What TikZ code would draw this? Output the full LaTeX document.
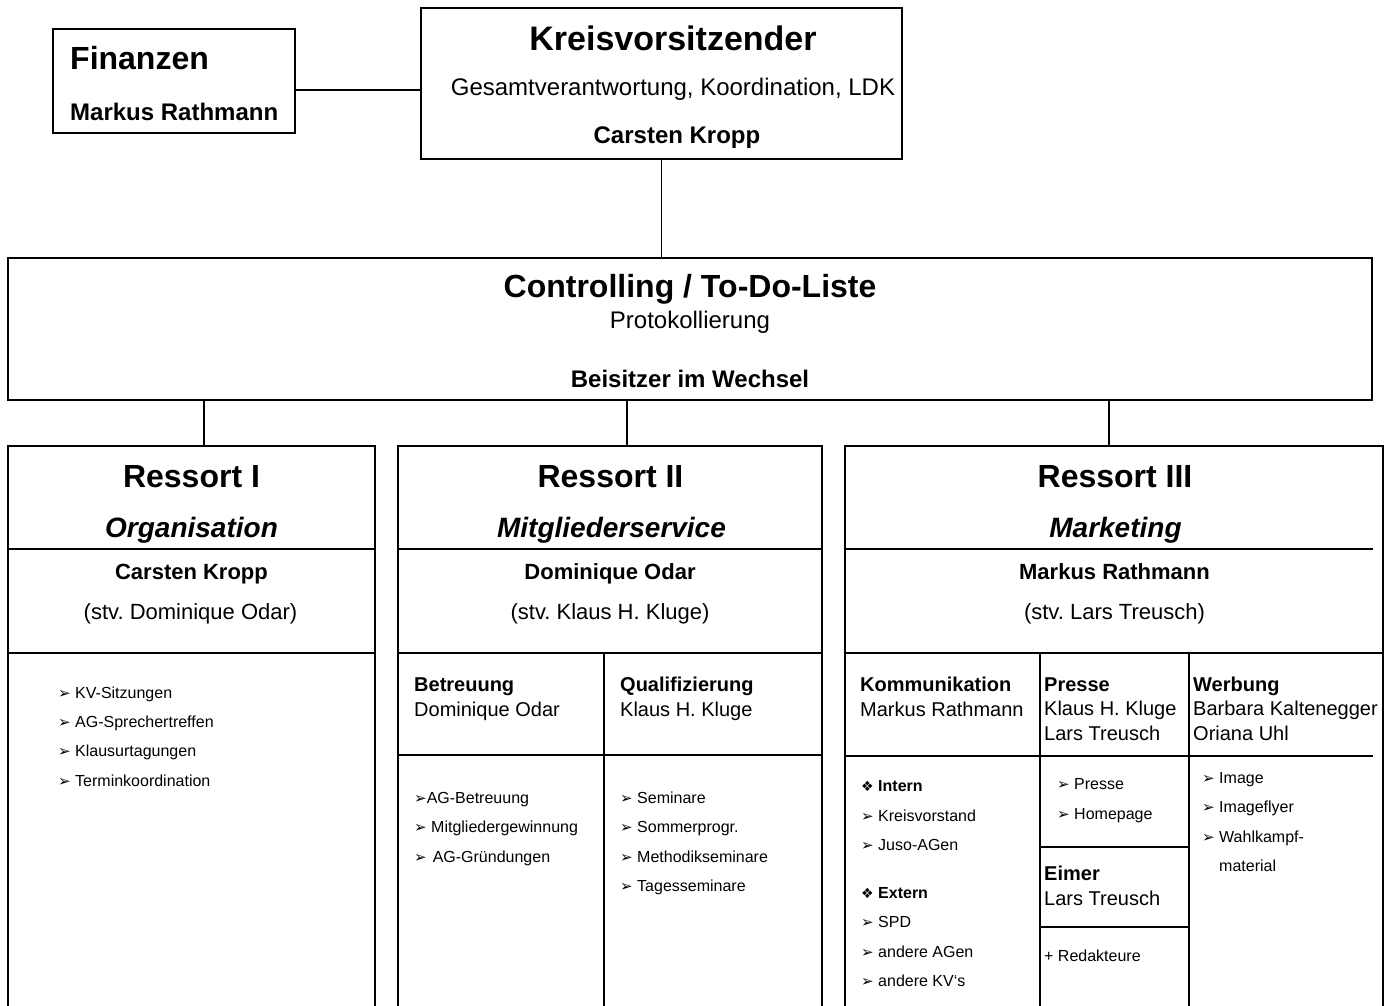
\documentclass[tikz,border=0pt]{standalone}
\usepackage{fontspec}
\setmainfont{Liberation Sans}
\newfontfamily\symfont{DejaVu Sans}
\usetikzlibrary{positioning}
\frenchspacing
\newcommand{\arrowbullet}{{\symfont\fontsize{15}{15}\selectfont ➢}}
\newcommand{\diabullet}{{\symfont\fontsize{14}{14}\selectfont ❖}}
\tikzset{
    box/.style={draw, rectangle, line width=1.4pt, inner sep=0pt},
    rule/.style={line width=1.4pt},
    link/.style={line width=1.2pt},
    txt/.style={inner sep=0pt, anchor=base},
    txtl/.style={inner sep=0pt, anchor=base west, align=left},
    huge_bold/.style={txt, font=\fontsize{34}{40}\selectfont\bfseries},
    big_bold/.style={txt, font=\fontsize{32}{38}\selectfont\bfseries},
    sub_italic/.style={txt, font=\fontsize{28}{34}\selectfont\bfseries\itshape},
    mid_bold/.style={txt, font=\fontsize{24}{28}\selectfont\bfseries},
    mid_plain/.style={txt, font=\fontsize{24}{28}\selectfont},
    name_bold/.style={txt, font=\fontsize{22}{26}\selectfont\bfseries},
    name_plain/.style={txt, font=\fontsize{22}{26}\selectfont},
    head_text/.style={txtl, font=\fontsize{20}{24.5}\selectfont},
    item_list/.style={txtl, font=\fontsize{16}{29.4}\selectfont}
}

\begin{document}
\begin{tikzpicture}[x=1pt, y=-1pt]
  \useasboundingbox (0,0) rectangle (1394,1005);
  \clip (0,0) rectangle (1394,1005);

  % Top: Finanzen and Kreisvorsitzender
  \node[box, minimum width=242, minimum height=104] (finanzen) at (174,81) {};
  \node[box, minimum width=481, minimum height=151] (kreis) at (661.5,83.5) {};
  \node[big_bold, anchor=base west] (fin_title) at (70,69.5) {Finanzen};
  \node[mid_bold, anchor=base west] (fin_name) at (70,120.6) {Markus Rathmann};
  \node[huge_bold] (kreis_title) at (673,50) {Kreisvorsitzender};
  \node[mid_plain] (kreis_task) at (673,95.5) {Gesamtverantwortung, Koordination, LDK};
  \node[mid_bold] (kreis_name) at (677,143.5) {Carsten Kropp};

  % Controlling
  \node[box, minimum width=1364, minimum height=142] (ctrl) at (690,329) {};
  \node[big_bold] (ctrl_title) at (690,297) {Controlling / To-Do-Liste};
  \node[mid_plain] (ctrl_task) at (690,328.5) {Protokollierung};
  \node[mid_bold] (ctrl_name) at (690,387.6) {Beisitzer im Wechsel};

  % Ressort boxes (open at the bottom)
  \node[box, minimum width=367, minimum height=566] (res1) at (191.5,729) {};
  \node[box, minimum width=424, minimum height=566] (res2) at (610,729) {};
  \node[box, minimum width=538, minimum height=566] (res3) at (1114,729) {};

  % inner rules
  \draw[rule] (res1.west |- 0,549) -- (res1.east |- 0,549);
  \draw[rule] (res1.west |- 0,653) -- (res1.east |- 0,653);
  \draw[rule] (res2.west |- 0,549) -- (res2.east |- 0,549);
  \draw[rule] (res2.west |- 0,653) -- (res2.east |- 0,653);
  \draw[rule] (res2.west |- 0,755) -- (res2.east |- 0,755);
  \draw[rule] (604,653) -- (604,1010);
  \draw[rule] (res3.west |- 0,549) -- (1373,549);
  \draw[rule] (res3.west |- 0,653) -- (res3.east |- 0,653);
  \draw[rule] (res3.west |- 0,756) -- (1373,756);
  \draw[rule] (1040,653) -- (1040,1010);
  \draw[rule] (1189,653) -- (1189,1010);
  \draw[rule] (1040,847) -- (1189,847);
  \draw[rule] (1040,927) -- (1189,927);

  % Ressort I
  \node[big_bold] (res1_title) at (191.5,487.5) {Ressort I};
  \node[sub_italic] (res1_sub) at (191.5,537) {Organisation};
  \node[name_bold] (res1_name) at (191.5,579) {Carsten Kropp};
  \node[name_plain] (res1_dep) at (190.5,619) {(stv. Dominique Odar)};
  \node[item_list] (res1_items) at (58,786.2) {\arrowbullet\ KV-Sitzungen\\
    \arrowbullet\ AG-Sprechertreffen\\
    \arrowbullet\ Klausurtagungen\\
    \arrowbullet\ Terminkoordination};

  % Ressort II
  \node[big_bold] (res2_title) at (610.5,487.5) {Ressort II};
  \node[sub_italic] (res2_sub) at (611.5,537) {Mitgliederservice};
  \node[name_bold] (res2_name) at (610,579) {Dominique Odar};
  \node[name_plain] (res2_dep) at (610,619) {(stv. Klaus H. Kluge)};
  \node[head_text] (betreuung) at (414,716) {\textbf{Betreuung}\\Dominique Odar};
  \node[head_text] (quali) at (620,716) {\textbf{Qualifizierung}\\Klaus H. Kluge};
  \node[item_list] (betreuung_items) at (414,862) {\arrowbullet AG-Betreuung\\
    \arrowbullet\ Mitgliedergewinnung\\
    \arrowbullet\hspace{6pt}AG-Gründungen};
  \node[item_list] (quali_items) at (620,891.4) {\arrowbullet\ Seminare\\
    \arrowbullet\ Sommerprogr.\\
    \arrowbullet\ Methodikseminare\\
    \arrowbullet\ Tagesseminare};

  % Ressort III
  \node[big_bold] (res3_title) at (1115,487.5) {Ressort III};
  \node[sub_italic] (res3_sub) at (1115.5,537) {Marketing};
  \node[name_bold] (res3_name) at (1114.5,579) {Markus Rathmann};
  \node[name_plain] (res3_dep) at (1114.5,619) {(stv. Lars Treusch)};
  \node[head_text] (kommunikation) at (860,716) {\textbf{Kommunikation}\\Markus Rathmann};
  \node[head_text] (presse) at (1044,740) {\textbf{Presse}\\Klaus H. Kluge\\Lars Treusch};
  \node[head_text] (werbung) at (1193,740) {\textbf{Werbung}\\Barbara Kaltenegger\\Oriana Uhl};
  \node[item_list] (komm_items) at (861,986.5) {\diabullet\ \textbf{Intern}\\
    \arrowbullet\ Kreisvorstand\\
    \arrowbullet\ Juso-AGen\\[18.5pt]
    \diabullet\ \textbf{Extern}\\
    \arrowbullet\ SPD\\
    \arrowbullet\ andere AGen\\
    \arrowbullet\ andere KV‘s};
  \node[item_list] (presse_items) at (1057,819) {\arrowbullet\ Presse\\
    \arrowbullet\ Homepage};
  \node[head_text] (eimer) at (1044,905) {\textbf{Eimer}\\Lars Treusch};
  \node[item_list] (redakteure) at (1044,961.5) {+ Redakteure};
  \node[item_list] (werbung_items) at (1202,871.5) {\arrowbullet\ Image\\
    \arrowbullet\ Imageflyer\\
    \arrowbullet\ Wahlkampf-\\
    \hspace{17pt}material};

  % Connections
  \draw[link] ([yshift=-9pt]finanzen.east) -- ([yshift=-9pt]finanzen.east -| kreis.west);
  \draw[link] (kreis.south) -- (kreis.south |- ctrl.north);
  \draw[link] ([xshift=12.5pt]res1.north |- ctrl.south) -- ([xshift=12.5pt]res1.north);
  \draw[link] ([xshift=17pt]res2.north |- ctrl.south) -- ([xshift=17pt]res2.north);
  \draw[link] ([xshift=-5pt]res3.north |- ctrl.south) -- ([xshift=-5pt]res3.north);

\end{tikzpicture}
\end{document}
